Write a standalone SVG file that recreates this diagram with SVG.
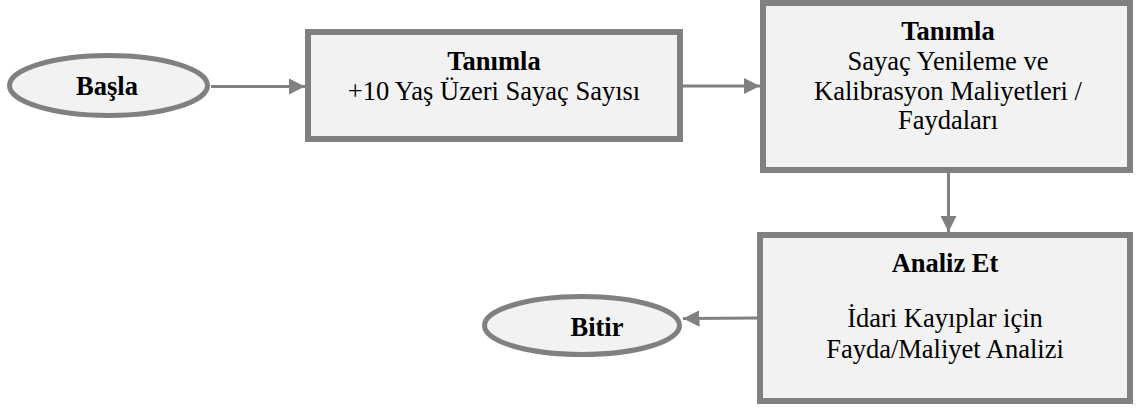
<svg xmlns="http://www.w3.org/2000/svg" width="1141" height="410" viewBox="0 0 1141 410">
<defs>
<style>
.box{fill:#f2f2f2;stroke:#808080;stroke-width:6}
.oval{fill:#f2f2f2;stroke:#808080;stroke-width:5}
.t{font-family:"Liberation Serif","Times New Roman",serif;font-size:26.5px;fill:#000;text-anchor:middle}
.b{font-weight:bold}
.c{stroke:#808080;stroke-width:3;fill:none}
</style>
<marker id="ah" viewBox="0 0 10 10" refX="10" refY="5" markerWidth="5.5" markerHeight="5.5" markerUnits="strokeWidth" orient="auto">
<path d="M0,0 L10,5 L0,10 z" fill="#808080"/>
</marker>
</defs>
<g id="connectors">
<line class="c" x1="211" y1="86.5" x2="305" y2="86.5" marker-end="url(#ah)"/>
<line class="c" x1="683" y1="86" x2="760" y2="86" marker-end="url(#ah)"/>
<line class="c" x1="948.5" y1="173" x2="948.5" y2="232" marker-end="url(#ah)"/>
<line class="c" x1="757" y1="318" x2="683" y2="318.5" marker-end="url(#ah)"/>
</g>
<g id="start">
<ellipse class="oval" cx="108.5" cy="85.5" rx="99" ry="30"/>
<text class="t b" x="107" y="95">Başla</text>
</g>
<g id="define1">
<rect class="box" x="308" y="32" width="372" height="107"/>
<text class="t b" x="494" y="70">Tanımla</text>
<text class="t" x="494" y="100">+10 Yaş Üzeri Sayaç Sayısı</text>
</g>
<g id="define2">
<rect class="box" x="763" y="3" width="367" height="167"/>
<text class="t b" x="948" y="40">Tanımla</text>
<text class="t" x="948" y="70">Sayaç Yenileme ve</text>
<text class="t" x="948" y="100">Kalibrasyon Maliyetleri /</text>
<text class="t" x="948" y="129">Faydaları</text>
</g>
<g id="analyze">
<rect class="box" x="760" y="235" width="370" height="166"/>
<text class="t b" x="945" y="272">Analiz Et</text>
<text class="t" x="945" y="327">İdari Kayıplar için</text>
<text class="t" x="945" y="358">Fayda/Maliyet Analizi</text>
</g>
<g id="end">
<ellipse class="oval" cx="582" cy="325.5" rx="97.5" ry="29"/>
<text class="t b" x="597" y="336">Bitir</text>
</g>
</svg>
